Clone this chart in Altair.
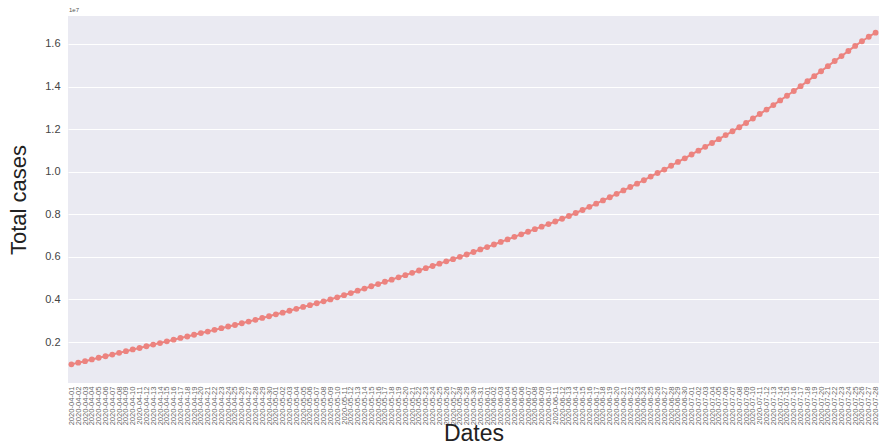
import altair as alt
import pandas as pd

# Daily dates on the categorical x axis
dates = pd.date_range("2020-04-01", "2020-07-28", freq="D").strftime("%Y-%m-%d").tolist()

# Cumulative confirmed cases, in millions
total_cases_m = [
    0.95, 1.03, 1.10, 1.18, 1.26, 1.33, 1.41, 1.49, 1.57, 1.65,
    1.72, 1.80, 1.88, 1.95, 2.03, 2.11, 2.19, 2.26, 2.34, 2.42,
    2.49, 2.57, 2.65, 2.73, 2.80, 2.88, 2.96, 3.04, 3.13, 3.21,
    3.30, 3.38, 3.47, 3.56, 3.65, 3.73, 3.82, 3.91, 4.00, 4.10,
    4.20, 4.30, 4.41, 4.51, 4.62, 4.72, 4.83, 4.93, 5.04, 5.14,
    5.25, 5.36, 5.47, 5.57, 5.68, 5.79, 5.89, 6.00, 6.11, 6.23,
    6.35, 6.46, 6.58, 6.70, 6.82, 6.94, 7.06, 7.18, 7.30, 7.42,
    7.54, 7.66, 7.79, 7.92, 8.06, 8.20, 8.35, 8.50, 8.65, 8.80,
    8.96, 9.12, 9.28, 9.44, 9.60, 9.77, 9.94, 10.10, 10.28, 10.46,
    10.63, 10.81, 10.99, 11.17, 11.35, 11.53, 11.72, 11.90, 12.09, 12.29,
    12.50, 12.71, 12.92, 13.13, 13.35, 13.57, 13.79, 14.02, 14.25, 14.49,
    14.72, 14.96, 15.20, 15.43, 15.67, 15.91, 16.13, 16.34, 16.53,
]

y_ticks = [2e6, 4e6, 6e6, 8e6, 10e6, 12e6, 14e6, 16e6]

df = pd.DataFrame({
    "Dates": dates,
    "Total cases": [v * 1e6 for v in total_cases_m],
})

POINT_COLOR = "#EC837F"

base = alt.Chart(df)

line = base.mark_line(
    color=POINT_COLOR, strokeWidth=2,
    point=alt.OverlayMarkDef(filled=True, color=POINT_COLOR, size=34, opacity=1),
).encode(
    x=alt.X(
        "Dates:N", sort=None, title="Dates",
        axis=alt.Axis(
            labelAngle=-90, labelFontSize=7.6, labelColor="#666666",
            labelOverlap=False, labelPadding=3, ticks=False, domain=False,
            grid=False, titleFontSize=23, titleFontWeight="normal",
            titleColor="#222222", titleBaseline="alphabetic", titleY=57,
            titleFont="Liberation Sans", labelFont="Liberation Sans",
        ),
    ),
    y=alt.Y(
        "Total cases:Q", title="Total cases",
        scale=alt.Scale(domain=[0.074e6, 17.315e6], nice=False, zero=False),
        axis=alt.Axis(
            values=y_ticks, labelExpr="format(datum.value / 1e7, '.1f')",
            labelFontSize=11, labelColor="#444444", labelPadding=8,
            ticks=False, domain=False, gridColor="white", gridWidth=1,
            titleFontSize=22, titleFontWeight="normal", titleColor="#222222",
            titlePadding=14, titleFont="Liberation Sans", labelFont="Liberation Sans",
        ),
    ),
)

# Offset exponent shown above the y axis
offset_label = alt.Chart(pd.DataFrame({"t": ["1e7"]})).mark_text(
    align="left", baseline="bottom", fontSize=6, color="#555555",
    font="Liberation Sans",
).encode(x=alt.value(1), y=alt.value(-3), text="t:N")

chart = alt.layer(line, offset_label).properties(
    width=811, height=367,
    padding={"left": 68, "top": 16, "right": 0, "bottom": 62},
    autosize="none",
    background="white",
).configure_view(fill="#EAEAF2", stroke=None)

chart.save("out.html", embed_options={"renderer": "svg", "actions": False})
